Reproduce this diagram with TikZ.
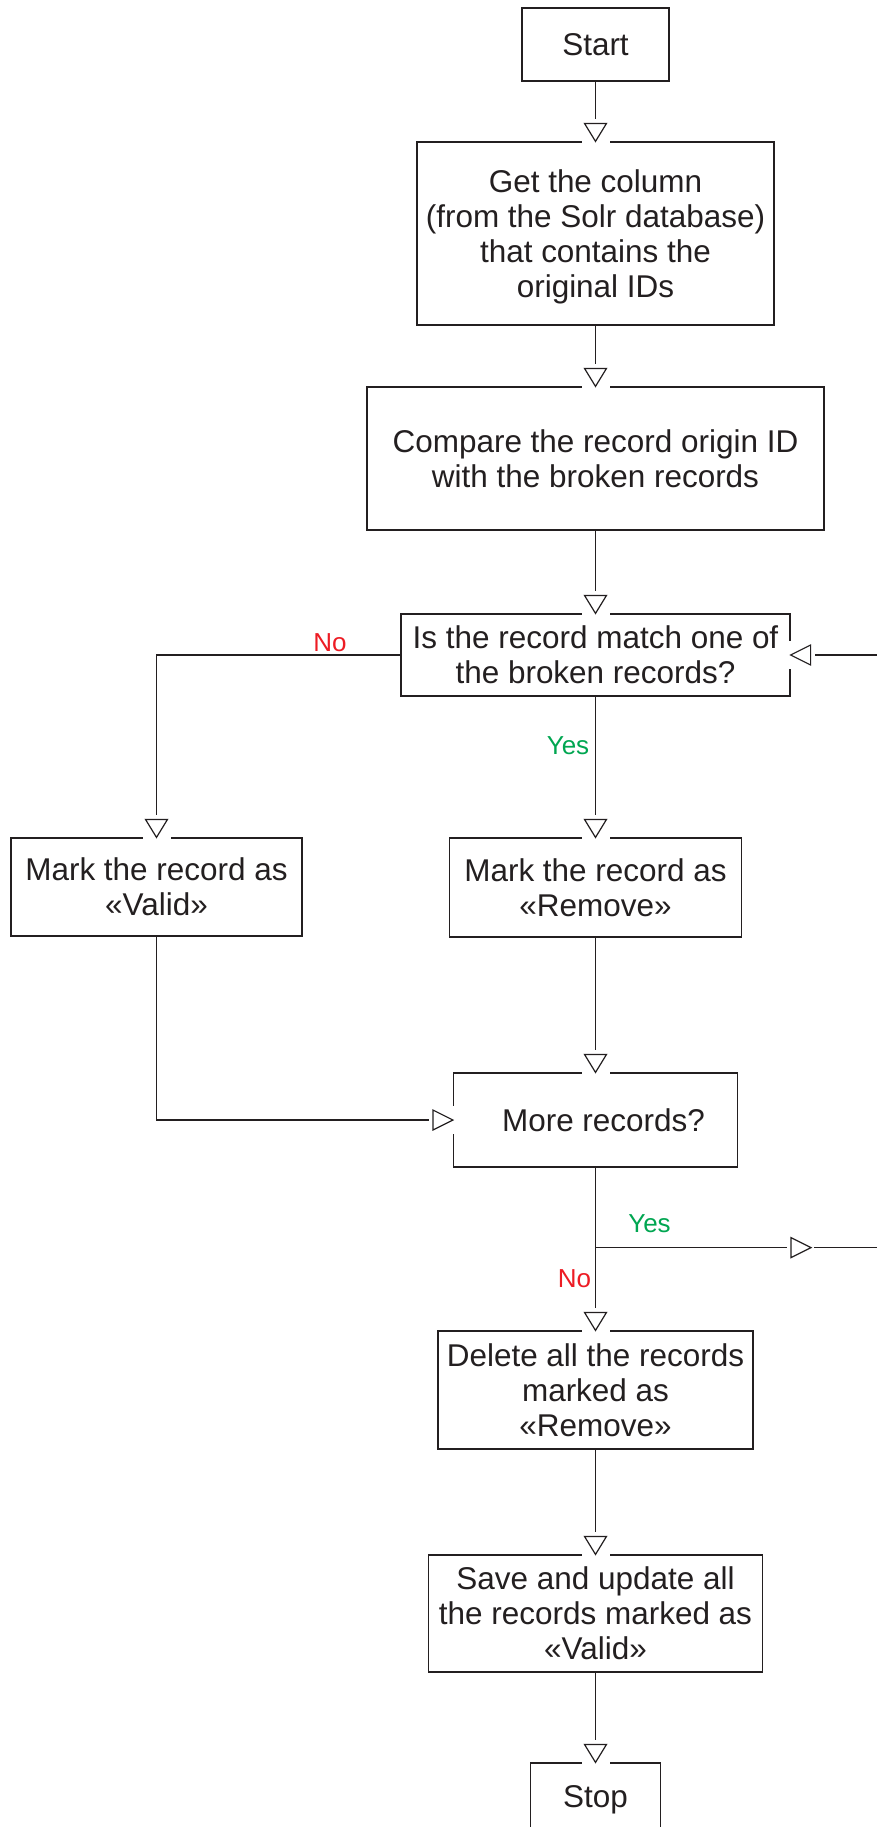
\documentclass[tikz,border=0pt]{standalone}
\usepackage{fontspec}
\setmainfont{Liberation Sans}
\usetikzlibrary{calc}
\definecolor{ink}{RGB}{35,31,32}
\definecolor{nored}{RGB}{237,28,36}
\definecolor{yesgreen}{RGB}{0,166,81}
\begin{document}
\begin{tikzpicture}[x=0.75pt,y=-0.75pt,
  every node/.style={font=\fontsize{23.6}{26.25}\selectfont, text=ink},
  stepbox/.style 2 args={draw=ink, line width=0.9pt, fill=white, align=center,
    inner sep=2pt, minimum width=#1*0.75pt, minimum height=#2*0.75pt},
  conn/.style={draw=ink, line width=0.9pt},
  lbl/.style={font=\fontsize{19.5}{22}\selectfont, anchor=base},
  % open triangle with a small gap cut into the line / border around it
  pics/enterdown/.style={code={
    \fill[white] (-14,-22) rectangle (14,3);
    \draw[ink, line width=0.9pt] (-11,-18) -- (11,-18) -- (0,0) -- cycle;}},
  pics/enterright/.style={code={
    \fill[white] (-24,-14) rectangle (3,14);
    \draw[ink, line width=0.9pt] (-20,-10) -- (-20,10) -- (0,0) -- cycle;}},
  pics/enterleft/.style={code={
    \fill[white] (-3,-14) rectangle (24,14);
    \draw[ink, line width=0.9pt] (20,-10) -- (20,10) -- (0,0) -- cycle;}}
]
\useasboundingbox (0,0) rectangle (877,1827);
\clip (0,0) rectangle (877,1827);
\fill[white] (0,0) rectangle (877,1827);

% process steps
\node[stepbox={147}{73}]  (start)   at (595.5,44.5)  {Start};
\node[stepbox={357}{183}, text depth=0pt] (getcol) at (595.5,233.5) {Get the column\\(from the Solr database)\\that contains the\\original IDs};
\node[stepbox={457}{143}] (compare) at (595.5,458.5) {Compare the record origin ID\\with the broken records};
\node[stepbox={389}{82}]  (decide)  at (595.5,655)   {Is the record match one of\\the broken records?};
\node[stepbox={291}{98}]  (valid)   at (156.5,887)   {Mark the record as\\«Valid»};
\node[stepbox={292}{99}]  (remove)  at (595.5,887.5) {Mark the record as\\«Remove»};
\node[stepbox={284}{94}]  (more)    at (595.5,1120)  {\hspace{12pt}More records?};
\node[stepbox={315}{118}] (delete)  at (595.5,1390)  {Delete all the records\\marked as\\«Remove»};
\node[stepbox={334}{117}] (save)    at (595.5,1613.5){Save and update all\\the records marked as\\«Valid»};
\node[stepbox={130}{73}]  (stop)    at (595.5,1799.5){Stop};

% helper points of the loop back to the decision
\coordinate (fork)    at ($(more.south)+(0,80)$);
\coordinate (loopSE)  at ($(fork)+(345,0)$);
\coordinate (loopNE)  at (loopSE |- decide.east);
\coordinate (yesmark) at ($(fork)+(215.5,0)$);

% connectors
\draw[conn] (start.south)   -- (getcol.north);
\draw[conn] (getcol.south)  -- (compare.north);
\draw[conn] (compare.south) -- (decide.north);
\draw[conn] (decide.west)   -| (valid.north);
\draw[conn] (decide.south)  -- (remove.north);
\draw[conn] (valid.south)   |- (more.west);
\draw[conn] (remove.south)  -- (more.north);
\draw[conn] (more.south)    -- (delete.north);
\draw[conn] (fork) -- (loopSE) -- (loopNE) -- (decide.east);
\draw[conn] (delete.south)  -- (save.north);
\draw[conn] (save.south)    -- (stop.north);

% arrowheads
\pic at (getcol.north)  {enterdown};
\pic at (compare.north) {enterdown};
\pic at (decide.north)  {enterdown};
\pic at (valid.north)   {enterdown};
\pic at (remove.north)  {enterdown};
\pic at (more.north)    {enterdown};
\pic at (more.west)     {enterright};
\pic at (yesmark)       {enterright};
\pic at (decide.east)   {enterleft};
\pic at (delete.north)  {enterdown};
\pic at (save.north)    {enterdown};
\pic at (stop.north)    {enterdown};

% branch labels
\node[lbl, text=nored]    (nolbla)  at (330,651)    {No};
\node[lbl, text=yesgreen] (yeslbla) at (568,754)    {Yes};
\node[lbl, text=yesgreen] (yeslblb) at (649.5,1232) {Yes};
\node[lbl, text=nored]    (nolblb)  at (574.5,1287) {No};
\end{tikzpicture}
\end{document}
